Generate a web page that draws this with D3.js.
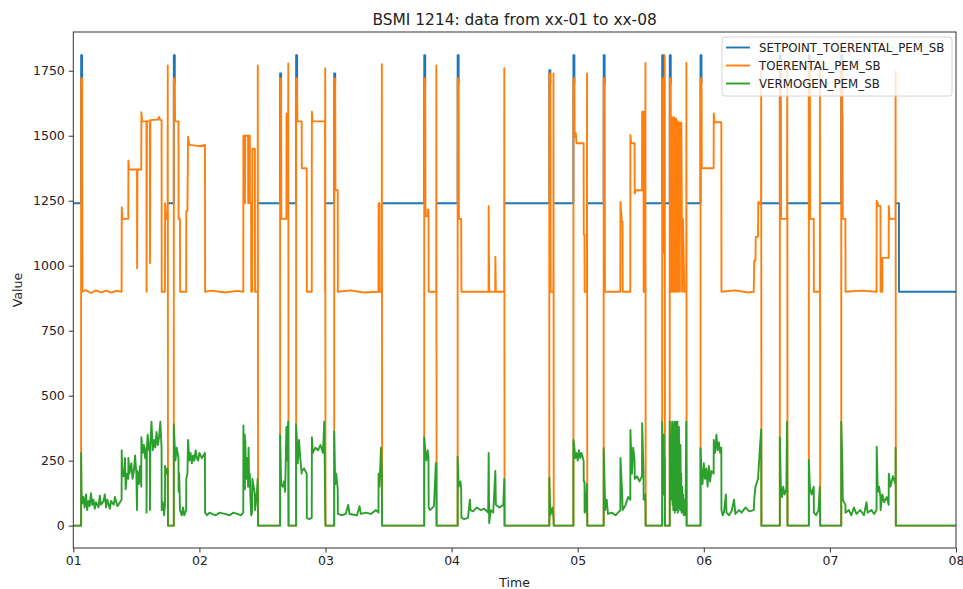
<!DOCTYPE html>
<html>
<head>
<meta charset="utf-8">
<script src="https://cdn.jsdelivr.net/npm/d3@7"></script>
<style>
  body { margin: 0; background: #fff; }
  text { font-family: "DejaVu Sans", sans-serif; fill: #222; }
</style>
</head>
<body>
<div id="chart"></div>
<script>
// chart texts
var title = "BSMI 1214: data from xx-01 to xx-08";
var xLabel = "Time", yLabel = "Value";
var seriesNames = ["SETPOINT_TOERENTAL_PEM_SB", "TOERENTAL_PEM_SB", "VERMOGEN_PEM_SB"];
var seriesColors = ["#1f77b4", "#ff7f0e", "#2ca02c"];

// ticks
var xTicks = [1, 2, 3, 4, 5, 6, 7, 8];
var xTickLabels = ["01", "02", "03", "04", "05", "06", "07", "08"];
var yTicks = [0, 250, 500, 750, 1000, 1250, 1500, 1750];

// series, [day, value]; null = hidden while the pump runs
var setpoint = [
  [1.000, 1240], [1.062, 1240], [1.062, 1810], [1.070, 1810], [1.070, 1700], [1.070, null],
  [1.751, 1240], [1.797, 1240], [1.797, 1810], [1.805, 1810], [1.805, 1700], [1.805, null],
  [2.465, 1240], [2.640, 1240], [2.640, 1740], [2.648, 1740], [2.648, 1700], [2.648, null],
  [2.707, 1240], [2.767, 1240], [2.767, 1810], [2.775, 1810], [2.775, 1700], [2.775, null],
  [3.000, 1240], [3.069, 1240], [3.069, 1740], [3.077, 1740], [3.077, 1700], [3.077, null],
  [3.449, 1240], [3.783, 1240], [3.783, 1810], [3.791, 1810], [3.791, 1700], [3.791, null],
  [3.881, 1240], [4.048, 1240], [4.048, 1810], [4.056, 1810], [4.056, 1700], [4.056, null],
  [4.420, 1240], [4.775, 1240], [4.775, 1752], [4.783, 1752], [4.783, 1700], [4.783, null],
  [4.810, 1240], [4.966, 1240], [4.966, 1810], [4.974, 1810], [4.974, 1700], [4.974, null],
  [5.076, 1240], [5.206, 1240], [5.206, 1810], [5.214, 1810], [5.214, 1700], [5.214, null],
  [5.539, 1240], [5.670, 1240], [5.670, 1810], [5.678, 1810], [5.678, 1700], [5.678, null],
  [5.692, 1240], [5.730, 1240], [5.730, 1810], [5.738, 1810], [5.738, 1700], [5.738, null],
  [5.864, 1240], [5.974, 1240], [5.974, 1810], [5.982, 1810], [5.982, 1700], [5.982, null],
  [6.457, 1240], [6.603, 1240], [6.603, 1810], [6.611, 1810], [6.611, 1700], [6.611, null],
  [6.664, 1240], [6.833, 1240], [6.833, 1810], [6.841, 1810], [6.841, 1700], [6.841, null],
  [6.923, 1240], [7.090, 1240], [7.090, 1810], [7.098, 1810], [7.098, 1700], [7.098, null],
  [7.523, 1240], [7.548, 1240], [7.548, 900], [8.000, 900]
];

var speed = [
  [1.000, 0],
  [1.062, 0], [1.062, 1720], [1.070, 1720], [1.072, 900], [1.10, 906], [1.14, 895], [1.18, 905], [1.22, 897],
  [1.26, 904], [1.30, 896], [1.34, 903], [1.383, 900], [1.384, 1225], [1.39, 1180], [1.436, 1180],
  [1.437, 1405], [1.442, 1370], [1.505, 1370], [1.506, 990], [1.509, 1370], [1.539, 1370], [1.540, 1590],
  [1.546, 1555], [1.580, 1555], [1.581, 900], [1.584, 1555], [1.607, 1555], [1.608, 1010], [1.611, 1560],
  [1.67, 1562], [1.68, 1572], [1.69, 1560], [1.700, 1560], [1.701, 900], [1.727, 900], [1.728, 1240],
  [1.735, 1180], [1.748, 1180], [1.749, 1770], [1.751, 0],
  [1.797, 0], [1.797, 1720], [1.805, 1720], [1.807, 1555], [1.834, 1555], [1.835, 1180], [1.846, 1180],
  [1.847, 900], [1.895, 900], [1.896, 1210], [1.905, 1210], [1.910, 1496], [1.92, 1465], [2.00, 1460],
  [2.044, 1465], [2.045, 900], [2.10, 904], [2.20, 897], [2.30, 903], [2.348, 900], [2.349, 1500],
  [2.360, 1500], [2.361, 1240], [2.364, 1500], [2.386, 1500], [2.387, 1240], [2.392, 1500], [2.400, 1500],
  [2.401, 1240], [2.410, 1240], [2.411, 900], [2.418, 900], [2.420, 1450], [2.440, 1450], [2.441, 900],
  [2.462, 900], [2.463, 1770], [2.465, 0],
  [2.640, 0], [2.640, 1720], [2.648, 1720], [2.650, 1180], [2.690, 1180], [2.691, 1586], [2.704, 1586],
  [2.705, 1778], [2.707, 0],
  [2.767, 0], [2.767, 1720], [2.775, 1720], [2.777, 1555], [2.811, 1555], [2.812, 1375], [2.851, 1375],
  [2.852, 900], [2.891, 900], [2.892, 1592], [2.898, 1555], [2.996, 1555], [2.997, 900], [2.998, 1760],
  [3.000, 0],
  [3.069, 0], [3.069, 1720], [3.077, 1720], [3.079, 1290], [3.097, 1290], [3.098, 900], [3.20, 905],
  [3.30, 897], [3.420, 900], [3.421, 1240], [3.428, 1240], [3.429, 900], [3.446, 900], [3.447, 1775],
  [3.449, 0],
  [3.783, 0], [3.783, 1720], [3.791, 1720], [3.793, 1190], [3.810, 1190], [3.811, 1215], [3.817, 1215],
  [3.818, 900], [3.878, 900], [3.879, 1770], [3.881, 0],
  [4.048, 0], [4.048, 1720], [4.056, 1720], [4.058, 1180], [4.076, 1180], [4.078, 900], [4.293, 900],
  [4.294, 1230], [4.298, 900], [4.346, 900], [4.347, 1035], [4.351, 900], [4.417, 900], [4.418, 1760],
  [4.420, 0],
  [4.775, 0], [4.775, 1740], [4.783, 1740], [4.786, 900], [4.807, 900], [4.808, 1740], [4.810, 0],
  [4.966, 0], [4.966, 1720], [4.974, 1720], [4.976, 1496], [4.985, 1510], [4.990, 1471], [5.047, 1471],
  [5.048, 1120], [5.054, 1120], [5.055, 900], [5.073, 900], [5.074, 1740], [5.076, 0],
  [5.206, 0], [5.206, 1720], [5.214, 1720], [5.216, 900], [5.338, 900], [5.339, 1245], [5.350, 1170],
  [5.356, 1170], [5.357, 900], [5.417, 900], [5.418, 1503], [5.424, 1471], [5.451, 1471], [5.452, 1278],
  [5.463, 1290], [5.510, 1290], [5.511, 1592], [5.522, 1592], [5.523, 900], [5.536, 900], [5.537, 1780],
  [5.539, 0],
  [5.670, 0], [5.670, 1720], [5.678, 1720], [5.679, 1300], [5.681, 1050], [5.683, 1500], [5.686, 1050],
  [5.688, 1300], [5.690, 1810], [5.692, 0],
  [5.730, 0], [5.730, 1720], [5.738, 1720], [5.740, 900], [5.748, 900], [5.749, 1570], [5.755, 900],
  [5.757, 1570], [5.766, 1570], [5.768, 900], [5.770, 1560], [5.780, 900], [5.782, 1565], [5.795, 900],
  [5.797, 1555], [5.810, 900], [5.812, 1550], [5.822, 1550], [5.825, 1300], [5.828, 900], [5.835, 1180],
  [5.845, 900], [5.861, 900], [5.862, 1780], [5.864, 0],
  [5.974, 0], [5.974, 1720], [5.982, 1720], [5.984, 1375], [6.078, 1375], [6.079, 1586], [6.085, 1552],
  [6.139, 1552], [6.140, 900], [6.25, 905], [6.35, 897], [6.396, 900], [6.400, 1020], [6.410, 1020],
  [6.412, 1111], [6.430, 1111], [6.432, 1245], [6.454, 1235], [6.455, 1770], [6.457, 0],
  [6.603, 0], [6.603, 1780], [6.611, 1780], [6.613, 1180], [6.660, 1180], [6.662, 1778], [6.664, 0],
  [6.833, 0], [6.833, 1790], [6.841, 1790], [6.843, 1180], [6.872, 1180], [6.873, 900], [6.920, 900],
  [6.921, 1780], [6.923, 0],
  [7.090, 0], [7.090, 1780], [7.098, 1780], [7.099, 1580], [7.101, 1580], [7.102, 1180], [7.123, 1180],
  [7.124, 900], [7.25, 904], [7.370, 900], [7.371, 1250], [7.385, 1230], [7.401, 1230], [7.402, 900],
  [7.415, 900], [7.416, 1030], [7.466, 1030], [7.467, 1230], [7.472, 1180], [7.520, 1180], [7.521, 1746],
  [7.523, 0],
  [8.000, 0]
];

var power = [
  [1.000, 0],
  [1.062, 0], [1.062, 280], [1.066, 120], [1.07, 85], [1.08, 110], [1.09, 70], [1.10, 120], [1.11, 60],
  [1.12, 95], [1.13, 75], [1.14, 125], [1.15, 80], [1.16, 100], [1.17, 65], [1.18, 90], [1.20, 70],
  [1.21, 115], [1.22, 80], [1.24, 95], [1.25, 120], [1.26, 70], [1.27, 100], [1.29, 65], [1.30, 95],
  [1.32, 80], [1.33, 110], [1.35, 75], [1.37, 90], [1.383, 100],
  [1.384, 290], [1.388, 200], [1.40, 190], [1.41, 260], [1.415, 140], [1.425, 200], [1.436, 180],
  [1.437, 260], [1.445, 200], [1.46, 240], [1.47, 180], [1.48, 210], [1.49, 270], [1.50, 200], [1.505, 60],
  [1.509, 210], [1.52, 160], [1.53, 230], [1.539, 150], [1.540, 340], [1.55, 280], [1.56, 310], [1.57, 260],
  [1.580, 300], [1.581, 50], [1.584, 300], [1.59, 350], [1.60, 290], [1.607, 300], [1.608, 60], [1.611, 310],
  [1.62, 400], [1.63, 290], [1.64, 330], [1.65, 300], [1.66, 360], [1.67, 310], [1.68, 340], [1.69, 400],
  [1.700, 300], [1.701, 60], [1.71, 90], [1.72, 40], [1.727, 80], [1.728, 230], [1.74, 200], [1.748, 220],
  [1.751, 0],
  [1.797, 0], [1.797, 390], [1.805, 300], [1.81, 250], [1.82, 300], [1.834, 260], [1.835, 130], [1.84, 200],
  [1.846, 60], [1.86, 40], [1.87, 70], [1.88, 40], [1.895, 60], [1.896, 180], [1.905, 200], [1.910, 330],
  [1.92, 250], [1.93, 280], [1.94, 240], [1.95, 270], [1.96, 250], [1.97, 290], [1.98, 260], [1.99, 250],
  [2.00, 280], [2.02, 260], [2.044, 280], [2.045, 50], [2.06, 40], [2.08, 50], [2.10, 45], [2.13, 40],
  [2.16, 50], [2.20, 45], [2.24, 40], [2.27, 50], [2.30, 45], [2.33, 40], [2.348, 50],
  [2.349, 385], [2.355, 200], [2.360, 350], [2.361, 140], [2.364, 330], [2.37, 180], [2.38, 260],
  [2.386, 150], [2.390, 300], [2.395, 150], [2.40, 200], [2.405, 100], [2.411, 40], [2.418, 50],
  [2.420, 180], [2.43, 150], [2.440, 120], [2.441, 60], [2.455, 120], [2.462, 180], [2.465, 0],
  [2.640, 0], [2.640, 349], [2.648, 160], [2.66, 150], [2.67, 170], [2.680, 130], [2.690, 380], [2.695, 250],
  [2.704, 400], [2.707, 0],
  [2.767, 0], [2.767, 390], [2.775, 310], [2.78, 240], [2.790, 330], [2.80, 260], [2.811, 200], [2.812, 210],
  [2.83, 220], [2.851, 200], [2.852, 30], [2.87, 25], [2.891, 30], [2.892, 340], [2.90, 280], [2.92, 300],
  [2.94, 290], [2.96, 310], [2.980, 280], [2.990, 400], [2.996, 150], [2.998, 40], [3.000, 0],
  [3.069, 0], [3.069, 362], [3.077, 160], [3.085, 200], [3.097, 140], [3.098, 45], [3.13, 40], [3.16, 45],
  [3.18, 80], [3.19, 45], [3.25, 40], [3.27, 75], [3.28, 45], [3.32, 50], [3.36, 45], [3.40, 60],
  [3.420, 50], [3.421, 200], [3.428, 150], [3.440, 300], [3.446, 220], [3.449, 0],
  [3.783, 0], [3.783, 340], [3.791, 290], [3.80, 250], [3.810, 290], [3.817, 260], [3.818, 70], [3.83, 60],
  [3.86, 75], [3.875, 240], [3.879, 240], [3.881, 0],
  [4.048, 0], [4.048, 265], [4.056, 150], [4.070, 170], [4.076, 140], [4.078, 30], [4.10, 25], [4.13, 30],
  [4.145, 100], [4.15, 60], [4.17, 55], [4.20, 70], [4.23, 60], [4.26, 65], [4.290, 50], [4.294, 280],
  [4.298, 10], [4.31, 60], [4.330, 50], [4.347, 210], [4.351, 80], [4.38, 70], [4.410, 80], [4.418, 180],
  [4.420, 0],
  [4.775, 0], [4.775, 185], [4.783, 40], [4.800, 70], [4.808, 30], [4.810, 0],
  [4.966, 0], [4.966, 330], [4.974, 300], [4.98, 260], [4.99, 280], [5.00, 250], [5.01, 290], [5.02, 260],
  [5.03, 280], [5.047, 250], [5.048, 170], [5.054, 170], [5.055, 50], [5.065, 60], [5.073, 160], [5.076, 0],
  [5.206, 0], [5.206, 298], [5.214, 150], [5.218, 60], [5.23, 100], [5.24, 45], [5.27, 50], [5.30, 40],
  [5.32, 50], [5.338, 60], [5.339, 260], [5.350, 150], [5.357, 60], [5.38, 80], [5.40, 110], [5.417, 100],
  [5.418, 368], [5.424, 280], [5.43, 200], [5.44, 300], [5.451, 250], [5.452, 180], [5.47, 190], [5.49, 170],
  [5.510, 190], [5.511, 394], [5.522, 200], [5.523, 100], [5.536, 120], [5.539, 0],
  [5.670, 0], [5.670, 400], [5.674, 200], [5.677, 320], [5.680, 120], [5.683, 350], [5.686, 150],
  [5.690, 260], [5.692, 0],
  [5.730, 0], [5.730, 400], [5.735, 200], [5.740, 100], [5.748, 380], [5.749, 400], [5.752, 80],
  [5.755, 350], [5.758, 60], [5.761, 390], [5.764, 120], [5.767, 400], [5.770, 50], [5.773, 300],
  [5.776, 100], [5.779, 400], [5.782, 60], [5.785, 330], [5.788, 90], [5.791, 400], [5.794, 50],
  [5.797, 280], [5.800, 120], [5.803, 380], [5.806, 70], [5.809, 250], [5.812, 60], [5.815, 310],
  [5.818, 100], [5.821, 200], [5.824, 50], [5.828, 150], [5.832, 60], [5.836, 120], [5.84, 40],
  [5.845, 100], [5.85, 60], [5.855, 40], [5.861, 400], [5.864, 0],
  [5.974, 0], [5.974, 298], [5.982, 200], [5.99, 160], [6.00, 240], [6.01, 180], [6.02, 220], [6.03, 150],
  [6.04, 230], [6.05, 170], [6.06, 210], [6.078, 200], [6.079, 330], [6.09, 280], [6.10, 350], [6.11, 290],
  [6.12, 320], [6.13, 280], [6.139, 300], [6.140, 60], [6.15, 40], [6.16, 50], [6.175, 120], [6.18, 50],
  [6.20, 40], [6.22, 55], [6.24, 100], [6.25, 45], [6.28, 60], [6.30, 50], [6.33, 70], [6.36, 55],
  [6.396, 60], [6.400, 100], [6.410, 150], [6.430, 180], [6.445, 300], [6.455, 370], [6.457, 0],
  [6.603, 0], [6.603, 340], [6.611, 150], [6.62, 110], [6.63, 150], [6.64, 120], [6.655, 140], [6.660, 400],
  [6.664, 0],
  [6.833, 0], [6.833, 253], [6.841, 150], [6.855, 120], [6.872, 150], [6.873, 50], [6.89, 40], [6.91, 60],
  [6.920, 150], [6.923, 0],
  [7.090, 0], [7.090, 400], [7.098, 250], [7.102, 100], [7.123, 80], [7.124, 50], [7.15, 60], [7.17, 40],
  [7.19, 70], [7.21, 45], [7.24, 60], [7.27, 40], [7.29, 90], [7.30, 50], [7.33, 60], [7.35, 45],
  [7.370, 60], [7.371, 304], [7.38, 130], [7.39, 150], [7.401, 110], [7.402, 60], [7.416, 120], [7.43, 90],
  [7.45, 110], [7.466, 80], [7.467, 200], [7.48, 150], [7.50, 190], [7.520, 160], [7.521, 300], [7.523, 0],
  [8.000, 0]
];

// drawing params
const width = 963, height = 589,
    mLeft = 73.3, mRight = 956, mTop = 32, mBottom = 548,
    lw = 1.9; // line width

var svg = d3.select("#chart").append("svg")
    .attr("width", width)
    .attr("height", height);

var x = d3.scaleLinear().domain([1, 8]).range([mLeft, mRight]);
var y = d3.scaleLinear().domain([-86, 1899]).range([mBottom, mTop]);

// clip to axes box
svg.append("clipPath").attr("id", "clip")
    .append("rect")
    .attr("x", mLeft).attr("y", mTop)
    .attr("width", mRight - mLeft).attr("height", mBottom - mTop);

var line = d3.line()
    .defined(function(d) { return d[1] !== null; })
    .x(function(d) { return x(d[0]); })
    .y(function(d) { return y(d[1]); });

// series, drawn in plot order
var plot = svg.append("g").attr("clip-path", "url(#clip)");
[setpoint, speed, power].forEach(function(s, i) {
    plot.append("path")
        .datum(s)
        .attr("fill", "none")
        .attr("stroke", seriesColors[i])
        .attr("stroke-width", lw)
        .attr("stroke-linejoin", "round")
        .attr("d", line);
});

// axes
var xAxis = svg.append("g")
    .attr("transform", "translate(0," + mBottom + ")")
    .call(d3.axisBottom(x).tickValues(xTicks)
        .tickFormat(function(d, i) { return xTickLabels[i]; })
        .tickSize(4.5).tickPadding(4));
var yAxis = svg.append("g")
    .attr("transform", "translate(" + mLeft + ",0)")
    .call(d3.axisLeft(y).tickValues(yTicks)
        .tickFormat(d3.format("d"))
        .tickSize(4.5).tickPadding(4));

[xAxis, yAxis].forEach(function(a) {
    a.select(".domain").remove();
    a.selectAll("line").attr("stroke", "#333").attr("stroke-width", 1);
    a.selectAll("text")
        .style("font-family", "'DejaVu Sans', sans-serif")
        .style("font-size", "12.5px")
        .attr("fill", "#222");
});

// frame
svg.append("rect")
    .attr("x", mLeft).attr("y", mTop)
    .attr("width", mRight - mLeft).attr("height", mBottom - mTop)
    .attr("fill", "none")
    .attr("stroke", "#333")
    .attr("stroke-width", 1);

// title and labels
svg.append("text")
    .attr("x", (mLeft + mRight) / 2).attr("y", 25)
    .attr("text-anchor", "middle")
    .style("font-size", "15.4px")
    .text(title);
svg.append("text")
    .attr("x", (mLeft + mRight) / 2).attr("y", 587)
    .attr("text-anchor", "middle")
    .style("font-size", "12.5px")
    .text(xLabel);
svg.append("text")
    .attr("transform", "translate(22," + (mTop + mBottom) / 2 + ") rotate(-90)")
    .attr("text-anchor", "middle")
    .style("font-size", "12.5px")
    .text(yLabel);

// legend
var lg = svg.append("g").attr("transform", "translate(722,37)");
lg.append("rect")
    .attr("width", 230).attr("height", 59)
    .attr("rx", 3)
    .attr("fill", "#fff").attr("fill-opacity", 0.8)
    .attr("stroke", "#d4d4d4");
seriesNames.forEach(function(name, i) {
    var row = lg.append("g").attr("transform", "translate(0," + (10.5 + i * 18) + ")");
    row.append("line")
        .attr("x1", 4).attr("x2", 28)
        .attr("stroke", seriesColors[i]).attr("stroke-width", lw);
    row.append("text")
        .attr("x", 37).attr("dy", "0.36em")
        .style("font-size", "11.8px")
        .text(name);
});
</script>
</body>
</html>
